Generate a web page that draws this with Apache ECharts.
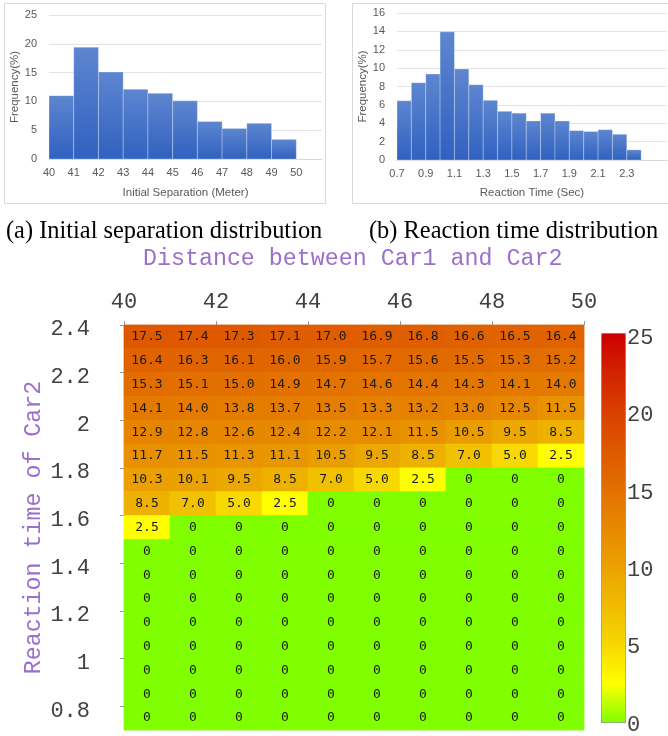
<!DOCTYPE html>
<html>
<head>
<meta charset="utf-8">
<script src="https://cdn.jsdelivr.net/npm/echarts@6/dist/echarts.min.js"></script>
<style>
html, body {margin: 0; padding: 0; background: #ffffff;}
#chart {width: 668px; height: 736px;}
</style>
</head>
<body>
<div id="chart"></div>
<script>
//----------------------Data----------------------
// (a) initial separation histogram, bins of 1 m
let separation_bins = [40, 41, 42, 43, 44, 45, 46, 47, 48, 49];
let separation_freq = [11.0, 19.4, 15.1, 12.1, 11.4, 10.1, 6.5, 5.3, 6.2, 3.4];
let separation_ticks = [40, 41, 42, 43, 44, 45, 46, 47, 48, 49, 50];
// (b) reaction time histogram, bins of 0.1 s
let reaction_bins = [0.7, 0.8, 0.9, 1.0, 1.1, 1.2, 1.3, 1.4, 1.5, 1.6, 1.7, 1.8, 1.9, 2.0, 2.1, 2.2, 2.3];
let reaction_freq = [6.45, 8.4, 9.35, 13.95, 9.9, 8.2, 6.5, 5.3, 5.1, 4.25, 5.1, 4.25, 3.2, 3.1, 3.3, 2.8, 1.1];
let reaction_ticks = [0.7, 0.9, 1.1, 1.3, 1.5, 1.7, 1.9, 2.1, 2.3];
// heatmap: columns start at distance, rows end at reaction time (top edge)
let distance_cols = [40, 41, 42, 43, 44, 45, 46, 47, 48, 49];
let reaction_rows = [2.4, 2.3, 2.2, 2.1, 2.0, 1.9, 1.8, 1.7, 1.6, 1.5, 1.4, 1.3, 1.2, 1.1, 1.0, 0.9, 0.8];
let gap_values = [
    [17.5, 17.4, 17.3, 17.1, 17.0, 16.9, 16.8, 16.6, 16.5, 16.4],
    [16.4, 16.3, 16.1, 16.0, 15.9, 15.7, 15.6, 15.5, 15.3, 15.2],
    [15.3, 15.1, 15.0, 14.9, 14.7, 14.6, 14.4, 14.3, 14.1, 14.0],
    [14.1, 14.0, 13.8, 13.7, 13.5, 13.3, 13.2, 13.0, 12.5, 11.5],
    [12.9, 12.8, 12.6, 12.4, 12.2, 12.1, 11.5, 10.5, 9.5, 8.5],
    [11.7, 11.5, 11.3, 11.1, 10.5, 9.5, 8.5, 7.0, 5.0, 2.5],
    [10.3, 10.1, 9.5, 8.5, 7.0, 5.0, 2.5, 0, 0, 0],
    [8.5, 7.0, 5.0, 2.5, 0, 0, 0, 0, 0, 0],
    [2.5, 0, 0, 0, 0, 0, 0, 0, 0, 0],
    [0, 0, 0, 0, 0, 0, 0, 0, 0, 0],
    [0, 0, 0, 0, 0, 0, 0, 0, 0, 0],
    [0, 0, 0, 0, 0, 0, 0, 0, 0, 0],
    [0, 0, 0, 0, 0, 0, 0, 0, 0, 0],
    [0, 0, 0, 0, 0, 0, 0, 0, 0, 0],
    [0, 0, 0, 0, 0, 0, 0, 0, 0, 0],
    [0, 0, 0, 0, 0, 0, 0, 0, 0, 0],
    [0, 0, 0, 0, 0, 0, 0, 0, 0, 0]
];
let heat_y_ticks = [0.8, 1.0, 1.2, 1.4, 1.6, 1.8, 2.0, 2.2, 2.4];

//--------------------Styles--------------------
let excel_font = "'Liberation Sans', Arial, sans-serif";
let mono_font = "'Liberation Mono', 'DejaVu Sans Mono', monospace";
let cell_font = "'DejaVu Sans Mono', 'Liberation Mono', monospace";
let serif_font = "'Liberation Serif', 'Times New Roman', serif";
let excel_grey = "#595959";
let heat_colors = ['#80ff00', '#ffff00', '#f7d800', '#f0bb00', '#eba200', '#e78800',
                   '#e27000', '#de5800', '#d84000', '#d22200', '#cc0000'];

let chart_dom = document.getElementById("chart");
let chart = echarts.init(chart_dom);

//----------------------Series----------------------
function hist_data(bins, freq) {
    let out = [];
    for (let i = 0; i < bins.length; i++) {
        out.push([bins[i], freq[i]]);
    }
    return out;
}

function make_hist_render(bin_width) {
    return function (params, api) {
        let p0 = api.coord([api.value(0), api.value(1)]);
        let p1 = api.coord([api.value(0) + bin_width, 0]);
        return {
            type: 'rect',
            shape: {x: p0[0], y: p0[1], width: p1[0] - p0[0], height: p1[1] - p0[1]},
            style: {
                fill: new echarts.graphic.LinearGradient(0, 0, 0, 1, [
                    {offset: 0, color: '#5e86d0'},
                    {offset: 1, color: '#3061c0'}
                ]),
                stroke: 'rgba(255,255,255,0.35)',
                lineWidth: 0.8
            }
        };
    };
}

let heat_data = [];
for (let i = 0; i < reaction_rows.length; i++) {
    for (let j = 0; j < distance_cols.length; j++) {
        heat_data.push([distance_cols[j], reaction_rows[i], gap_values[i][j]]);
    }
}

function render_heat_cell(params, api) {
    let v = api.value(2);
    let color = api.visual('color');
    let p0 = api.coord([api.value(0), api.value(1)]);
    let p1 = api.coord([api.value(0) + 1, api.value(1) - 0.1]);
    return {
        type: 'rect',
        shape: {x: p0[0], y: p0[1], width: p1[0] - p0[0], height: p1[1] - p0[1]},
        style: {fill: color, stroke: color, lineWidth: 0.8},
        textContent: {
            style: {
                text: v === 0 ? '0' : v.toFixed(1),
                font: "13px " + cell_font,
                fill: '#1a1a1a'
            }
        },
        textConfig: {position: 'inside'}
    };
}

//----------------------Axis----------------------
let excel_y_axis = function (grid, max, interval) {
    return {
        gridIndex: grid, type: 'value', min: 0, max: max, interval: interval,
        axisLine: {show: false}, axisTick: {show: false},
        splitLine: {lineStyle: {color: '#e4e4e4', width: 1}},
        axisLabel: {color: excel_grey, fontFamily: excel_font, fontSize: 11, margin: 12},
        name: 'Frequency(%)', nameLocation: 'middle', nameGap: 26, nameRotate: 90,
        nameTextStyle: {color: excel_grey, fontFamily: excel_font, fontSize: 11.5}
    };
};

let option = {
    backgroundColor: '#ffffff',
    animation: false,
    graphic: [
        {type: 'rect', shape: {x: 4.5, y: 3.5, width: 321, height: 200},
         style: {fill: 'none', stroke: '#d9d9d9', lineWidth: 1}},
        {type: 'rect', shape: {x: 352.5, y: 3.5, width: 330, height: 200},
         style: {fill: 'none', stroke: '#d9d9d9', lineWidth: 1}}
    ],
    title: [
        {text: '(a) Initial separation distribution', left: 6, top: 220, padding: 0,
         textStyle: {fontFamily: serif_font, fontSize: 24.4, fontWeight: 'normal', color: '#000'}},
        {text: '(b) Reaction time distribution', left: 369, top: 220, padding: 0,
         textStyle: {fontFamily: serif_font, fontSize: 24.4, fontWeight: 'normal', color: '#000'}},
        {text: 'Distance between Car1 and Car2', left: 143, top: 247, padding: 0,
         textStyle: {fontFamily: mono_font, fontSize: 23.3, fontWeight: 'normal', color: '#9b6fcb'}}
    ],
    grid: [
        {left: 49, top: 15, width: 273, height: 144},
        {left: 397, top: 13, width: 270, height: 147},
        {left: 124, top: 325, width: 460, height: 405},
        // colorbar tick labels (matlab draws them a few px low)
        {left: 601, top: 338, width: 24, height: 389},
        // heatmap y tick labels, same offset
        {left: 124, top: 329.5, width: 460, height: 405}
    ],
    xAxis: [
        {
            gridIndex: 0, type: 'value', min: 40, max: 51.04,
            axisLine: {lineStyle: {color: '#d9d9d9'}}, axisTick: {show: false}, splitLine: {show: false},
            axisLabel: {color: excel_grey, fontFamily: excel_font, fontSize: 11, margin: 8,
                        customValues: separation_ticks},
            name: 'Initial Separation (Meter)', nameLocation: 'middle', nameGap: 28,
            nameTextStyle: {color: excel_grey, fontFamily: excel_font, fontSize: 11.5}
        },
        {
            gridIndex: 1, type: 'value', min: 0.7, max: 2.58,
            axisLine: {lineStyle: {color: '#d9d9d9'}}, axisTick: {show: false}, splitLine: {show: false},
            axisLabel: {color: excel_grey, fontFamily: excel_font, fontSize: 11, margin: 8,
                        customValues: reaction_ticks,
                        formatter: function (v) { return v.toFixed(1); }},
            name: 'Reaction Time (Sec)', nameLocation: 'middle', nameGap: 27,
            nameTextStyle: {color: excel_grey, fontFamily: excel_font, fontSize: 11.5}
        },
        {
            gridIndex: 2, type: 'value', min: 40, max: 50, interval: 2, position: 'top',
            axisLine: {show: false}, splitLine: {show: false},
            axisTick: {show: true, inside: false, length: 4, lineStyle: {color: '#999999'}},
            axisLabel: {color: '#404040', fontFamily: mono_font, fontSize: 22, margin: 12}
        },
        {gridIndex: 3, type: 'value', show: false, min: 0, max: 1},
        {gridIndex: 4, type: 'value', show: false, min: 0, max: 1}
    ],
    yAxis: [
        excel_y_axis(0, 25, 5),
        excel_y_axis(1, 16, 2),
        {
            gridIndex: 2, type: 'value', min: 0.7, max: 2.4,
            axisLine: {show: false}, splitLine: {show: false},
            axisTick: {show: true, inside: false, length: 4, lineStyle: {color: '#999999'},
                       customValues: heat_y_ticks},
            axisLabel: {show: false},
            name: 'Reaction time of Car2', nameLocation: 'middle', nameGap: 79, nameRotate: 90,
            nameMoveOverlap: false,
            nameTextStyle: {color: '#9b6fcb', fontFamily: mono_font, fontSize: 23.3}
        },
        {
            gridIndex: 3, type: 'value', position: 'right', min: 0, max: 25, interval: 5,
            axisLine: {show: false}, axisTick: {show: false}, splitLine: {show: false},
            axisLabel: {color: '#404040', fontFamily: mono_font, fontSize: 22, margin: 2}
        },
        {
            gridIndex: 4, type: 'value', min: 0.7, max: 2.4,
            axisLine: {show: false}, axisTick: {show: false}, splitLine: {show: false},
            axisLabel: {color: '#404040', fontFamily: mono_font, fontSize: 22, margin: 34,
                        customValues: heat_y_ticks,
                        formatter: function (v) { return String(Math.round(v * 10) / 10); }}
        }
    ],
    visualMap: {
        type: 'continuous', min: 0, max: 25, seriesIndex: 2, dimension: 2,
        orient: 'vertical', left: 601, top: 333, itemWidth: 24, itemHeight: 389,
        calculable: false, padding: 0, borderColor: '#8c8c8c', borderWidth: 1,
        inRange: {color: heat_colors}
    },
    series: [
        {type: 'custom', xAxisIndex: 0, yAxisIndex: 0, renderItem: make_hist_render(1),
         encode: {x: 0, y: 1}, data: hist_data(separation_bins, separation_freq)},
        {type: 'custom', xAxisIndex: 1, yAxisIndex: 1, renderItem: make_hist_render(0.1),
         encode: {x: 0, y: 1}, data: hist_data(reaction_bins, reaction_freq)},
        {type: 'custom', xAxisIndex: 2, yAxisIndex: 2, renderItem: render_heat_cell,
         encode: {x: 0, y: 1}, data: heat_data}
    ]
};

chart.setOption(option, true);
</script>
</body>
</html>
